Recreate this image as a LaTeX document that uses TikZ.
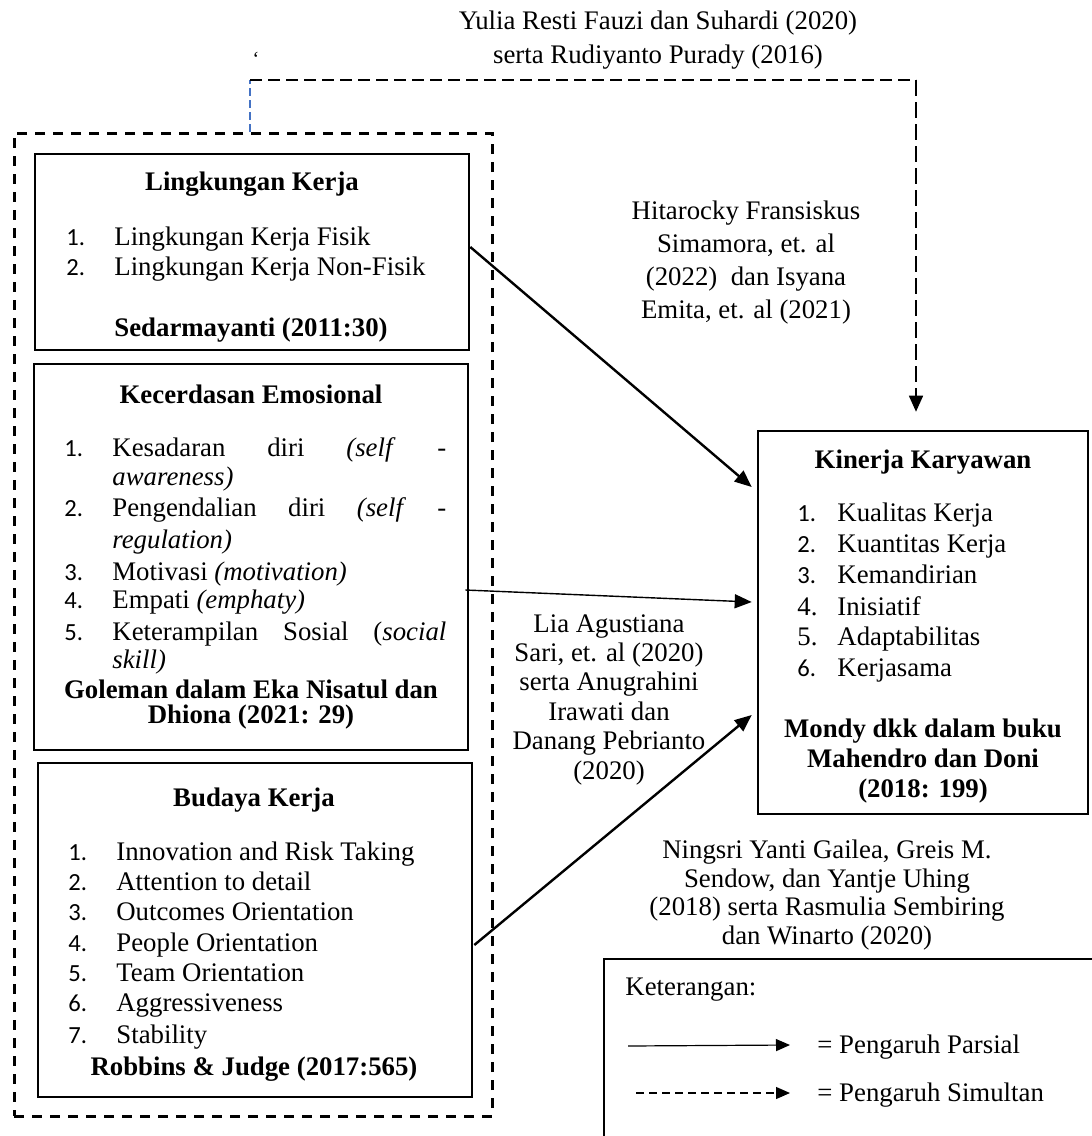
\documentclass[tikz,border=0pt]{standalone}
\usepackage{fontspec}
\setmainfont{Liberation Serif}
\newfontfamily\numfont{Carlito}
\usetikzlibrary{arrows.meta,calc}
\definecolor{lineblue}{RGB}{68,114,196}
\begin{document}
\begin{tikzpicture}[x=0.5pt,y=-0.5pt,
  txt/.style={font=\fontsize{13.4}{16}\selectfont, inner sep=0pt, text height=10.5pt, text depth=2.5pt},
  ttl/.style={txt, font=\fontsize{13.4}{16}\selectfont\bfseries},
  itm/.style={txt, anchor=west},
  numf/.style={inner sep=0pt, text height=10.5pt, text depth=2.5pt, font=\numfont\fontsize{12.3}{14}\selectfont, anchor=west},
  numt/.style={itm},
  bx/.style={draw, line width=1.3pt, inner sep=0pt},
  arr/.style={-{Triangle[length=8.5pt,width=7pt]}, line width=1.2pt},
  legarr/.style={-{Triangle[length=7pt,width=6pt]}, line width=0.6pt},
  cite/.style={inner sep=0pt, align=center}
]
\clip (0,0) rectangle (1092,1136);
\fill[white] (0,0) rectangle (1092,1136);

% top citation
\node[cite, font=\fontsize{13.4}{17}\selectfont] (topcite) at (658,40) {Yulia Resti Fauzi dan Suhardi (2020)\\serta Rudiyanto Purady (2016)};
\node[txt, font=\fontsize{10}{12}\selectfont] (bt) at (256,57) {\symbol{96}};

% outer dashed group
\node[draw, line width=1.5pt, dash pattern=on 5pt off 4pt, inner sep=0pt,
      minimum width=239pt, minimum height=491.5pt] (outer) at (253,624.5) {};

% Lingkungan Kerja
\node[bx, minimum width=217pt, minimum height=98pt] (lk) at (252,252) {};
\node[ttl] (lkt) at (252,182) {Lingkungan Kerja};
\node[numf] (lk1n) at (66,237) {1.};
\node[itm] (lk1) at (114,237) {Lingkungan Kerja Fisik};
\node[numf] (lk2n) at (66,267) {2.};
\node[itm] (lk2) at (114,267) {Lingkungan Kerja Non-Fisik};
\node[ttl] (lks) at (251,328) {Sedarmayanti (2011:30)};

% Kecerdasan Emosional
\node[bx, minimum width=217pt, minimum height=193pt] (ke) at (251,557) {};
\node[ttl] (ket) at (251,395) {Kecerdasan Emosional};
\node[numf] (ke1n) at (64,448) {1.};
\node[itm] (ke1) at (112,448) {\makebox[167pt][l]{Kesadaran\hfill diri\hfill\textit{(self}\hfill -}};
\node[itm] (ke1b) at (112,477) {\textit{awareness)}};
\node[numf] (ke2n) at (64,508) {2.};
\node[itm] (ke2) at (112,508) {\makebox[167pt][l]{Pengendalian\hfill diri\hfill\textit{(self}\hfill -}};
\node[itm] (ke2b) at (112,540) {\textit{regulation)}};
\node[numf] (ke3n) at (64,572) {3.};
\node[itm] (ke3) at (112,572) {Motivasi \textit{(motivation)}};
\node[numf] (ke4n) at (64,600) {4.};
\node[itm] (ke4) at (112,600) {Empati \textit{(emphaty)}};
\node[numf] (ke5n) at (64,632) {5.};
\node[itm] (ke5) at (112,632) {\makebox[167pt][l]{Keterampilan\hfill Sosial\hfill(\textit{social}}};
\node[itm] (ke5b) at (112,660) {\textit{skill)}};
\node[ttl] (kes1) at (251,690) {Goleman dalam Eka Nisatul dan};
\node[ttl] (kes2) at (251,715) {Dhiona (2021: 29)};

% Budaya Kerja
\node[bx, minimum width=217pt, minimum height=167pt] (bk) at (255,930) {};
\node[ttl] (bkt) at (254,798) {Budaya Kerja};
\node[numf] (bk1n) at (68,852) {1.};
\node[itm] (bk1) at (116,852) {Innovation and Risk Taking};
\node[numf] (bk2n) at (68,882) {2.};
\node[itm] (bk2) at (116,882) {Attention to detail};
\node[numf] (bk3n) at (68,912) {3.};
\node[itm] (bk3) at (116,912) {Outcomes Orientation};
\node[numf] (bk4n) at (68,943) {4.};
\node[itm] (bk4) at (116,943) {People Orientation};
\node[numf] (bk5n) at (68,973) {5.};
\node[itm] (bk5) at (116,973) {Team Orientation};
\node[numf] (bk6n) at (68,1003) {6.};
\node[itm] (bk6) at (116,1003) {Aggressiveness};
\node[numf] (bk7n) at (68,1035) {7.};
\node[itm] (bk7) at (116,1035) {Stability};
\node[ttl] (bks) at (254,1067) {Robbins \& Judge (2017:565)};

% Kinerja Karyawan
\node[bx, minimum width=165pt, minimum height=191.5pt] (kk) at (923,622.5) {};
\node[ttl] (kkt) at (923,460) {Kinerja Karyawan};
\node[numf] (kk1n) at (797,513) {1.};
\node[itm] (kk1) at (837,513) {Kualitas Kerja};
\node[numf] (kk2n) at (797,544) {2.};
\node[itm] (kk2) at (837,544) {Kuantitas Kerja};
\node[numf] (kk3n) at (797,575) {3.};
\node[itm] (kk3) at (837,575) {Kemandirian};
\node[numt] (kk4n) at (797,607) {4.};
\node[itm] (kk4) at (837,607) {Inisiatif};
\node[numt] (kk5n) at (797,637) {5.};
\node[itm] (kk5) at (837,637) {Adaptabilitas};
\node[numf] (kk6n) at (797,668) {6.};
\node[itm] (kk6) at (837,668) {Kerjasama};
\node[cite, font=\fontsize{13.4}{15}\selectfont\bfseries] (kks) at (923,761) {Mondy dkk dalam buku\\Mahendro dan Doni\\(2018: 199)};

% citations
\node[cite, font=\fontsize{13.4}{16.5}\selectfont] (c1) at (746,262.5) {Hitarocky Fransiskus\\Simamora, et. al\\(2022)~~dan Isyana\\Emita, et. al (2021)};
\node[cite, font=\fontsize{13.4}{14.7}\selectfont] (c2) at (609,699.5) {Lia Agustiana\\Sari, et. al (2020)\\serta Anugrahini\\Irawati dan\\Danang Pebrianto\\(2020)};
\node[cite, font=\fontsize{13.4}{14.35}\selectfont] (c3) at (827,895) {Ningsri Yanti Gailea, Greis M.\\Sendow, dan Yantje Uhing\\(2018) serta Rasmulia Sembiring\\dan Winarto (2020)};

% partial arrows
\draw[arr] ($(lk.east)+(0,-5)$) -- ($(kk.west)+(-5,-135.5)$);
\draw[arr, line width=0.7pt] ($(ke.east)+(-4,33)$) -- ($(kk.west)+(-5,-20.5)$);
\draw[arr] ($(bk.east)+(1,15)$) -- ($(kk.west)+(-5,92.5)$);

% simultaneous connector
\coordinate (s1) at (250,80);
\coordinate (s2) at (916,80);
\draw[lineblue, line width=0.6pt, dash pattern=on 4pt off 2pt] (outer.north -| s1) -- (s1);
\draw[line width=0.7pt, dash pattern=on 6pt off 3pt] (s1) -- (s2);
\draw[-{Triangle[length=8pt,width=7pt]}, line width=0.8pt, dash pattern=on 8pt off 3pt, shorten >=9pt] (s2) -- (kk.north -| s2);

% legend
\node[draw, line width=0.65pt, inner sep=0pt, minimum width=273pt, minimum height=120.5pt] (leg) at (877,1079.5) {};
\node[itm] (legt) at (625,987) {Keterangan:};
\node[itm] (legp) at (817,1045) {= Pengaruh Parsial};
\node[itm] (legs) at (817,1093) {= Pengaruh Simultan};
\coordinate (lp1) at (628,1046);
\coordinate (ls1) at (636,1093);
\draw[legarr] (lp1) -- ([xshift=-13.5pt]legp.west);
\draw[legarr, dash pattern=on 4pt off 2.5pt] (ls1) -- ([xshift=-13.5pt]legs.west);
\end{tikzpicture}
\end{document}
